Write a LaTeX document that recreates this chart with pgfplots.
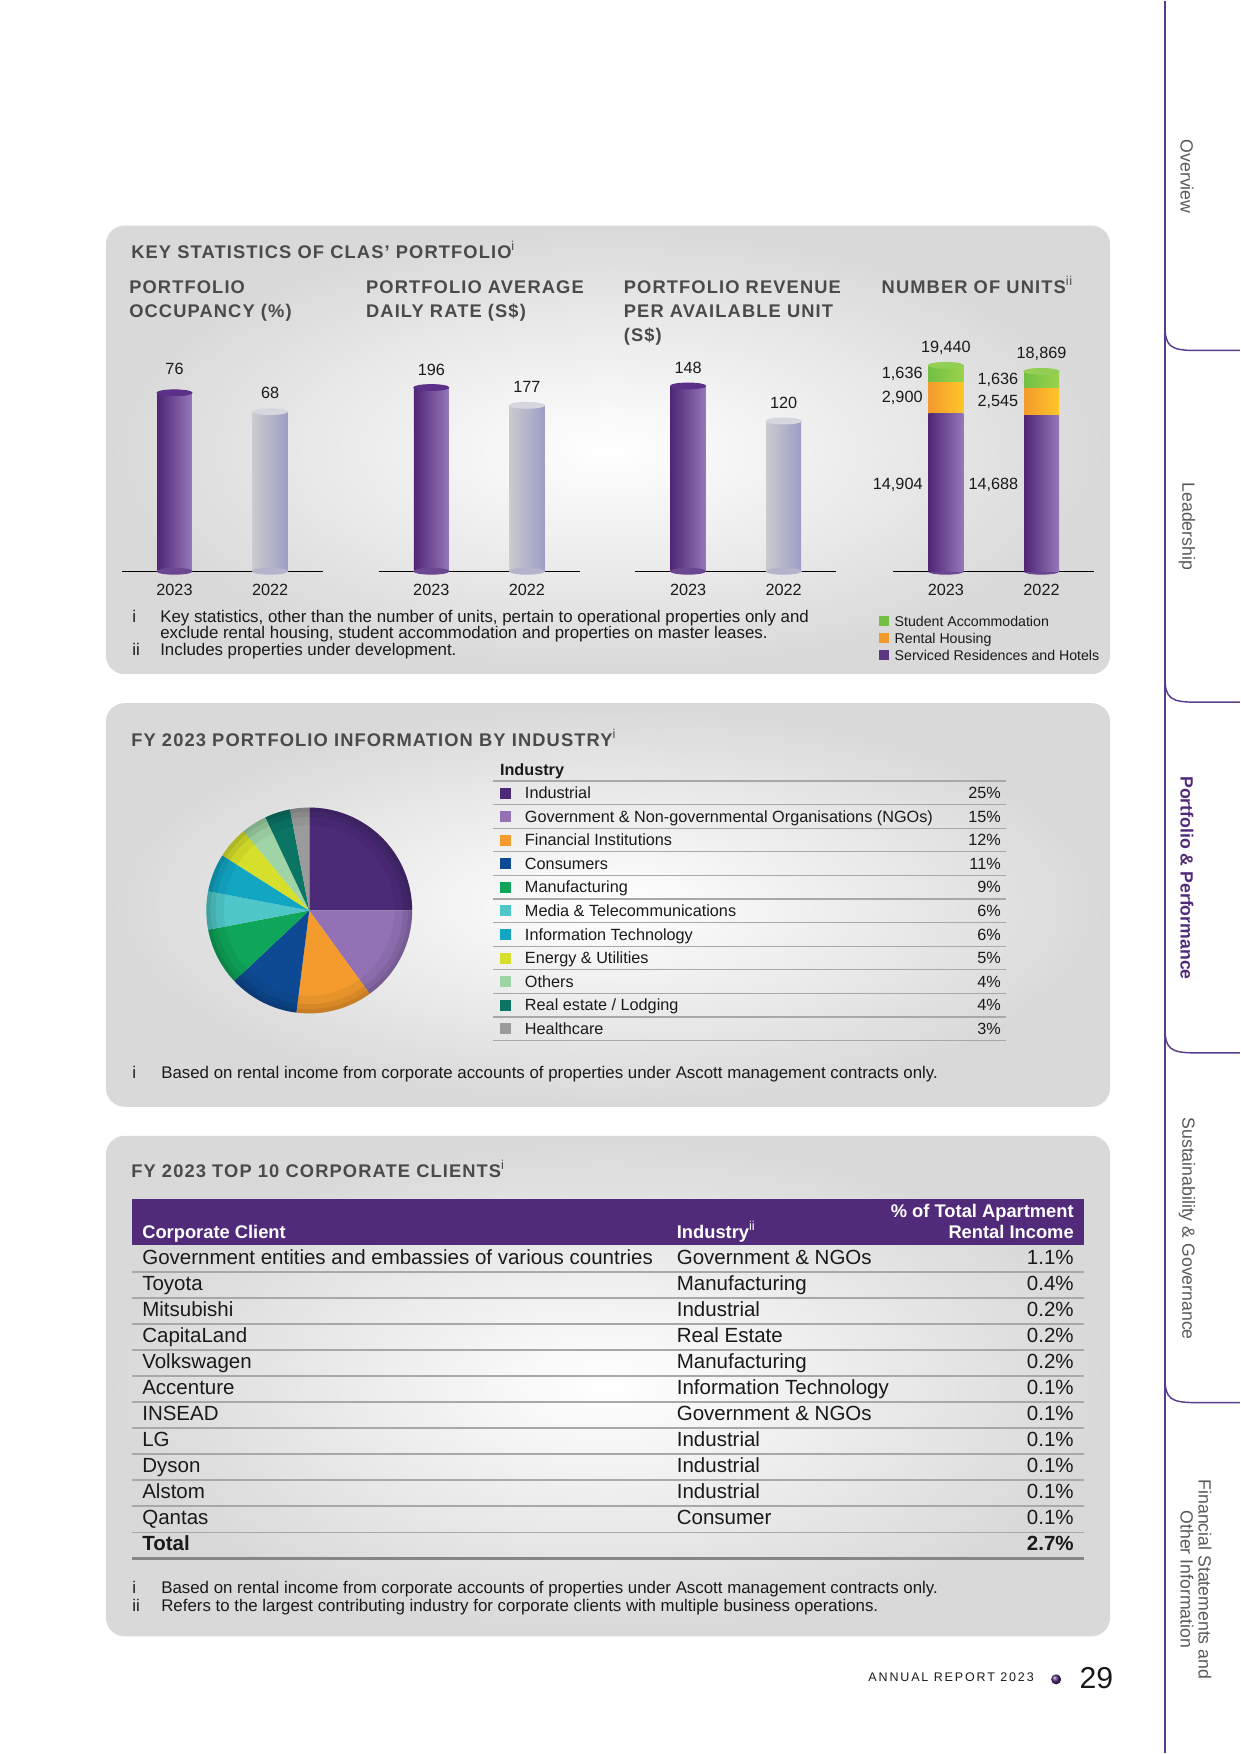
\documentclass[border=0pt]{standalone}
\usepackage{pgfplots}
\pgfplotsset{compat=1.18}
\usepackage{fontspec}
\setmainfont{Liberation Sans}
\pgfkeys{/pgf/number format/assume math mode=true}

\definecolor{hd}{HTML}{4A4A4A}
\definecolor{txt}{HTML}{1A1A1A}
\definecolor{pD}{HTML}{4F2675}
\definecolor{pL}{HTML}{9677BA}
\definecolor{pCap}{HTML}{5C3088}
\definecolor{gL}{HTML}{CACAD0}
\definecolor{gR}{HTML}{9D9DC5}
\definecolor{gCap}{HTML}{D6D6DE}
\definecolor{grL}{HTML}{73BF43}
\definecolor{grR}{HTML}{9BD34C}
\definecolor{grCap}{HTML}{93CF55}
\definecolor{orL}{HTML}{F39A2C}
\definecolor{orR}{HTML}{FFC629}
\definecolor{band}{HTML}{512B79}
\definecolor{side}{HTML}{5B3C8C}
\definecolor{rule}{HTML}{A8A8A8}
\definecolor{cInd}{HTML}{4B2A78}
\definecolor{cGov}{HTML}{9271B5}
\definecolor{cFin}{HTML}{F49B2E}
\definecolor{cCon}{HTML}{0D4A93}
\definecolor{cMan}{HTML}{0FA55A}
\definecolor{cMed}{HTML}{4FC6C8}
\definecolor{cIT}{HTML}{12A6C3}
\definecolor{cEne}{HTML}{D6E02C}
\definecolor{cOth}{HTML}{9FD4A6}
\definecolor{cRea}{HTML}{0A7465}
\definecolor{cHea}{HTML}{9B9B9B}

\newcommand\hfont{\fontsize{8.8}{11.5}\selectfont\bfseries\addfontfeatures{LetterSpace=6}}
\newcommand\vfont{\fontsize{7.8}{9}\selectfont}
\newcommand\fnfont{\fontsize{8.1}{8.5}\selectfont}
\newcommand\fnbfont{\fontsize{8.1}{9}\selectfont}
\newcommand\tfont{\fontsize{7.8}{9}\selectfont}
\newcommand\rfont{\fontsize{9.85}{11}\selectfont}
\newcommand\sfont{\fontsize{8.5}{10}\selectfont}
\newcommand\legfont{\fontsize{6.8}{8}\selectfont}

\pgfplotsset{
  kstat/.style={scale only axis, width=96.48pt, xmin=-0.55, xmax=1.55, ymin=0,
    anchor=south west, clip=false,
    axis y line=none, axis x line*=bottom,
    x axis line style={-, line width=0.6pt, black},
    xtick={0,1}, xticklabels={2023,2022}, major tick length=0pt,
    xticklabel style={font=\vfont, text=txt, anchor=base, yshift=-11.5pt},
    bar width=16.8pt},
  overlay axis/.style={scale only axis, width=96.48pt, xmin=-0.55, xmax=1.55, ymin=0,
    anchor=south west, clip=false, hide axis, bar width=16.8pt},
  cyl/.style n args={3}{ybar, bar shift=0pt, draw=none, left color=#1, right color=#2,
     nodes near coords, every node near coord/.append style={font=\vfont, text=txt, anchor=base, yshift=#3}},
  cap/.style={only marks, color=#1, mark=*, mark size=8.4pt, mark options={yscale=0.17, draw=#1, fill=#1}},
}

\begin{document}
\begin{tikzpicture}[x=0.48pt,y=-0.48pt]
\fill[white] (0,0) rectangle (1241,1754);
% ---------- panels
\shade[rounded corners=9pt, inner color=white, outer color=black!15] (106,225) rectangle (1111,674);
\shade[rounded corners=9pt, inner color=white, outer color=black!15] (106,703) rectangle (1111,1107);
\shade[rounded corners=9pt, inner color=white, outer color=black!15] (106,1136) rectangle (1111,1637);

% ---------- panel 1 headings
\node[anchor=base west, inner sep=0, font=\hfont, text=hd] at (131,258) {KEY STATISTICS OF CLAS’ PORTFOLIO\textsuperscript{\mdseries i}};
\node[anchor=base west, inner sep=0, font=\hfont, text=hd] at (129,293) {PORTFOLIO};
\node[anchor=base west, inner sep=0, font=\hfont, text=hd] at (129,317) {OCCUPANCY (\%)};
\node[anchor=base west, inner sep=0, font=\hfont, text=hd] at (366,293) {PORTFOLIO AVERAGE};
\node[anchor=base west, inner sep=0, font=\hfont, text=hd] at (366,317) {DAILY RATE (S\$)};
\node[anchor=base west, inner sep=0, font=\hfont, text=hd] at (624,293) {PORTFOLIO REVENUE};
\node[anchor=base west, inner sep=0, font=\hfont, text=hd] at (624,317) {PER AVAILABLE UNIT};
\node[anchor=base west, inner sep=0, font=\hfont, text=hd] at (624,341) {(S\$)};
\node[anchor=base west, inner sep=0, font=\hfont, text=hd] at (882,293) {NUMBER OF UNITS\textsuperscript{\mdseries ii}};

% ---------- chart 1: occupancy
\begin{axis}[kstat, at={(58.56pt,-274.08pt)}, height=112.8pt, ymax=100]
\addplot[cap=pD!60!pL] coordinates {(0,0)};
\addplot[cap=gL!50!gR] coordinates {(1,0)};
\addplot[cyl={pD}{pL}{9pt}] coordinates {(0,76)};
\addplot[cyl={gL}{gR}{6.5pt}] coordinates {(1,68)};
\addplot[cap=pCap] coordinates {(0,76)};
\addplot[cap=gCap] coordinates {(1,68)};
\end{axis}
% ---------- chart 2: ADR
\begin{axis}[kstat, at={(181.92pt,-274.08pt)}, height=90.05pt, ymax=200]
\addplot[cap=pD!60!pL] coordinates {(0,0)};
\addplot[cap=gL!50!gR] coordinates {(1,0)};
\addplot[cyl={pD}{pL}{6pt}] coordinates {(0,196)};
\addplot[cyl={gL}{gR}{6pt}] coordinates {(1,177)};
\addplot[cap=pCap] coordinates {(0,196)};
\addplot[cap=gCap] coordinates {(1,177)};
\end{axis}
% ---------- chart 3: RevPAU
\begin{axis}[kstat, at={(305.28pt,-274.08pt)}, height=96.23pt, ymax=160]
\addplot[cap=pD!60!pL] coordinates {(0,0)};
\addplot[cap=gL!50!gR] coordinates {(1,0)};
\addplot[cyl={pD}{pL}{6pt}] coordinates {(0,148)};
\addplot[cyl={gL}{gR}{6pt}] coordinates {(1,120)};
\addplot[cap=pCap] coordinates {(0,148)};
\addplot[cap=gCap] coordinates {(1,120)};
\end{axis}
% ---------- chart 4: number of units (stacked), one stack per year
\begin{axis}[overlay axis, at={(429.12pt,-274.08pt)}, height=101.76pt, ymax=20000]
\addplot[cap=pD!60!pL] coordinates {(0,0) (1,0)};
\end{axis}
\begin{axis}[kstat, at={(429.12pt,-274.08pt)}, height=101.76pt, ymax=20000, ybar stacked, bar shift=0pt]
\addplot[draw=none, left color=pD, right color=pL] coordinates {(0,14904)};
\addplot[draw=none, left color=orL, right color=orR] coordinates {(0,2900)};
\addplot[draw=none, left color=grL, right color=grR] coordinates {(0,1636)};
\end{axis}
\begin{axis}[overlay axis, at={(429.12pt,-274.08pt)}, height=101.76pt, ymax=20000, ybar stacked, bar shift=0pt]
\addplot[draw=none, left color=pD, right color=pL] coordinates {(1,14688)};
\addplot[draw=none, left color=orL, right color=orR] coordinates {(1,2545)};
\addplot[draw=none, left color=grL, right color=grR] coordinates {(1,1636)};
\end{axis}
\begin{axis}[overlay axis, at={(429.12pt,-274.08pt)}, height=101.76pt, ymax=20000]
\addplot[cap=grCap] coordinates {(0,19440) (1,18869)};
\node[font=\vfont, text=txt, anchor=base, inner sep=0] at (axis cs:0,19440) [yshift=6.3pt] {19,440};
\node[font=\vfont, text=txt, anchor=base, inner sep=0] at (axis cs:1,18869) [yshift=6.3pt] {18,869};
\node[font=\vfont, text=txt, anchor=east, inner sep=0] at (axis cs:0,18622) [xshift=-11pt] {1,636};
\node[font=\vfont, text=txt, anchor=east, inner sep=0] at (axis cs:0,16354) [xshift=-11pt] {2,900};
\node[font=\vfont, text=txt, anchor=east, inner sep=0] at (axis cs:0,8200) [xshift=-11pt] {14,904};
\node[font=\vfont, text=txt, anchor=east, inner sep=0] at (axis cs:1,18051) [xshift=-11pt] {1,636};
\node[font=\vfont, text=txt, anchor=east, inner sep=0] at (axis cs:1,15960) [xshift=-11pt] {2,545};
\node[font=\vfont, text=txt, anchor=east, inner sep=0] at (axis cs:1,8200) [xshift=-11pt] {14,688};
\end{axis}
% legend chart 4
\fill[grL] (880,616) rectangle (890,626);
\fill[orL] (880,633) rectangle (890,643);
\fill[pD!80!pL] (880,650) rectangle (890,660);
\node[anchor=mid west, inner sep=0, font=\legfont, text=txt] at (895,621) {Student Accommodation};
\node[anchor=mid west, inner sep=0, font=\legfont, text=txt] at (895,638) {Rental Housing};
\node[anchor=mid west, inner sep=0, font=\legfont, text=txt] at (895,655) {Serviced Residences and Hotels};
% footnotes panel 1
\node[anchor=base west, inner sep=0, font=\fnfont, text=txt] at (132,622) {i};
\node[anchor=base west, inner sep=0, font=\fnfont, text=txt] at (160,622) {Key statistics, other than the number of units, pertain to operational properties only and};
\node[anchor=base west, inner sep=0, font=\fnfont, text=txt] at (160,638) {exclude rental housing, student accommodation and properties on master leases.};
\node[anchor=base west, inner sep=0, font=\fnfont, text=txt] at (132,655) {ii};
\node[anchor=base west, inner sep=0, font=\fnfont, text=txt] at (160,655) {Includes properties under development.};

% ---------- panel 2
\node[anchor=base west, inner sep=0, font=\hfont, text=hd] at (131,746) {FY 2023 PORTFOLIO INFORMATION BY INDUSTRY\textsuperscript{\mdseries i}};
\begin{axis}[at={(148.56pt,-437.04pt)}, anchor=center, scale only axis, width=98.88pt, height=98.88pt,
  xmin=-1, xmax=1, ymin=-1, ymax=1, hide axis, clip=false]
\fill[cInd] (axis cs:0,0) -- ++(90:49.44pt) arc[start angle=90, end angle={90-3.6*25}, radius=49.44pt] -- cycle;
\fill[cGov] (axis cs:0,0) -- ++({90-3.6*25}:49.44pt) arc[start angle={90-3.6*25}, end angle={90-3.6*40}, radius=49.44pt] -- cycle;
\fill[cFin] (axis cs:0,0) -- ++({90-3.6*40}:49.44pt) arc[start angle={90-3.6*40}, end angle={90-3.6*52}, radius=49.44pt] -- cycle;
\fill[cCon] (axis cs:0,0) -- ++({90-3.6*52}:49.44pt) arc[start angle={90-3.6*52}, end angle={90-3.6*63}, radius=49.44pt] -- cycle;
\fill[cMan] (axis cs:0,0) -- ++({90-3.6*63}:49.44pt) arc[start angle={90-3.6*63}, end angle={90-3.6*72}, radius=49.44pt] -- cycle;
\fill[cMed] (axis cs:0,0) -- ++({90-3.6*72}:49.44pt) arc[start angle={90-3.6*72}, end angle={90-3.6*78}, radius=49.44pt] -- cycle;
\fill[cIT] (axis cs:0,0) -- ++({90-3.6*78}:49.44pt) arc[start angle={90-3.6*78}, end angle={90-3.6*84}, radius=49.44pt] -- cycle;
\fill[cEne] (axis cs:0,0) -- ++({90-3.6*84}:49.44pt) arc[start angle={90-3.6*84}, end angle={90-3.6*89}, radius=49.44pt] -- cycle;
\fill[cOth] (axis cs:0,0) -- ++({90-3.6*89}:49.44pt) arc[start angle={90-3.6*89}, end angle={90-3.6*93}, radius=49.44pt] -- cycle;
\fill[cRea] (axis cs:0,0) -- ++({90-3.6*93}:49.44pt) arc[start angle={90-3.6*93}, end angle={90-3.6*97}, radius=49.44pt] -- cycle;
\fill[cHea] (axis cs:0,0) -- ++({90-3.6*97}:49.44pt) arc[start angle={90-3.6*97}, end angle={90-3.6*100}, radius=49.44pt] -- cycle;
\fill[black, opacity=0.07, even odd rule] (axis cs:0,0) circle[radius=49.44pt] circle[radius=47.5pt];
\fill[black, opacity=0.07, even odd rule] (axis cs:0,0) circle[radius=49.44pt] circle[radius=45pt];
\fill[black, opacity=0.05, even odd rule] (axis cs:0,0) circle[radius=49.44pt] circle[radius=41pt];
\end{axis}
% industry table
\node[anchor=mid west, inner sep=0, font=\tfont\bfseries, text=txt] at (500,770) {Industry};
\foreach \i in {0,...,11} { \draw[rule, line width=0.6pt] (493,{781+23.6*\i}) -- (1007,{781+23.6*\i}); }
\foreach \n/\c/\lab/\pc in {0/cInd/Industrial/25,1/cGov/{Government \& Non-governmental Organisations (NGOs)}/15,
  2/cFin/Financial Institutions/12,3/cCon/Consumers/11,4/cMan/Manufacturing/9,5/cMed/{Media \& Telecommunications}/6,
  6/cIT/Information Technology/6,7/cEne/{Energy \& Utilities}/5,8/cOth/Others/4,9/cRea/{Real estate / Lodging}/4,10/cHea/Healthcare/3}{
  \fill[\c] (500,{793+23.6*\n-5.5}) rectangle (511,{793+23.6*\n+5.5});
  \node[anchor=mid west, inner sep=0, font=\tfont, text=txt] at (525,{793+23.6*\n}) {\lab};
  \node[anchor=mid east, inner sep=0, font=\tfont, text=txt] at (1002,{793+23.6*\n}) {\pc\%};
}
\node[anchor=base west, inner sep=0, font=\fnbfont, text=txt] at (132,1079) {i};
\node[anchor=base west, inner sep=0, font=\fnbfont, text=txt] at (161,1079) {Based on rental income from corporate accounts of properties under Ascott management contracts only.};

% ---------- panel 3
\node[anchor=base west, inner sep=0, font=\hfont, text=hd] at (131,1178) {FY 2023 TOP 10 CORPORATE CLIENTS\textsuperscript{\mdseries i}};
\fill[band] (132,1199) rectangle (1085,1245);
\node[anchor=base west, inner sep=0, font=\fontsize{8.8}{10}\selectfont\bfseries, text=white] at (142,1239) {Corporate Client};
\node[anchor=base west, inner sep=0, font=\fontsize{8.8}{10}\selectfont\bfseries, text=white] at (677,1239) {Industry\textsuperscript{\mdseries ii}};
\node[anchor=base east, inner sep=0, font=\fontsize{8.8}{10}\selectfont\bfseries, text=white] at (1075,1218) {\% of Total Apartment};
\node[anchor=base east, inner sep=0, font=\fontsize{8.8}{10}\selectfont\bfseries, text=white] at (1075,1239) {Rental Income};
\foreach \i in {0,...,10} { \draw[rule, line width=0.9pt] (132,{1272+26.1*\i}) -- (1085,{1272+26.1*\i}); }
\draw[rule!80!black, line width=1.3pt] (132,1559) -- (1085,1559);
\foreach \n/\cl/\ind/\pc in {0/{Government entities and embassies of various countries}/{Government \& NGOs}/1.1,
  1/Toyota/Manufacturing/0.4, 2/Mitsubishi/Industrial/0.2, 3/CapitaLand/Real Estate/0.2,
  4/Volkswagen/Manufacturing/0.2, 5/Accenture/Information Technology/0.1, 6/INSEAD/{Government \& NGOs}/0.1,
  7/LG/Industrial/0.1, 8/Dyson/Industrial/0.1, 9/Alstom/Industrial/0.1, 10/Qantas/Consumer/0.1}{
  \node[anchor=mid west, inner sep=0, font=\rfont, text=txt] at (142,{1259+26.1*\n}) {\cl};
  \node[anchor=mid west, inner sep=0, font=\rfont, text=txt] at (677,{1259+26.1*\n}) {\ind};
  \node[anchor=mid east, inner sep=0, font=\rfont, text=txt] at (1075,{1259+26.1*\n}) {\pc\%};
}
\node[anchor=mid west, inner sep=0, font=\rfont\bfseries, text=txt] at (142,1546) {Total};
\node[anchor=mid east, inner sep=0, font=\rfont\bfseries, text=txt] at (1075,1546) {2.7\%};
\node[anchor=base west, inner sep=0, font=\fnbfont, text=txt] at (132,1594) {i};
\node[anchor=base west, inner sep=0, font=\fnbfont, text=txt] at (161,1594) {Based on rental income from corporate accounts of properties under Ascott management contracts only.};
\node[anchor=base west, inner sep=0, font=\fnbfont, text=txt] at (132,1612) {ii};
\node[anchor=base west, inner sep=0, font=\fnbfont, text=txt] at (161,1612) {Refers to the largest contributing industry for corporate clients with multiple business operations.};

% ---------- sidebar
\draw[side, line width=0.7pt] (1166,0) -- (1166,1754);
\foreach \y in {350,702,1053,1403}{
  \draw[side, line width=0.7pt] (1166,\y-24) .. controls (1166,\y-4) and (1172,\y) .. (1196,\y) -- (1241,\y);
}
\node[rotate=-90, font=\sfont, text=black!65] at (1188,176) {Overview};
\node[rotate=-90, font=\sfont, text=black!65] at (1188,526) {Leadership};
\node[rotate=-90, font=\sfont\bfseries, text=band] at (1188,878) {Portfolio \& Performance};
\node[rotate=-90, font=\sfont, text=black!65] at (1188,1229) {Sustainability \& Governance};
\node[rotate=-90, font=\sfont, text=black!65] at (1206,1580) {Financial Statements and};
\node[rotate=-90, font=\sfont, text=black!65] at (1188,1580) {Other Information};

% ---------- footer
\node[anchor=base east, inner sep=0, font=\fontsize{6}{8}\selectfont\addfontfeatures{LetterSpace=15}, text=txt] at (1035,1682) {ANNUAL REPORT 2023};
\shade[ball color=band] (1057,1680) circle[radius=5];
\node[anchor=base west, inner sep=0, font=\fontsize{14.5}{16}\selectfont, text=txt] at (1080,1689) {29};
\end{tikzpicture}
\end{document}
